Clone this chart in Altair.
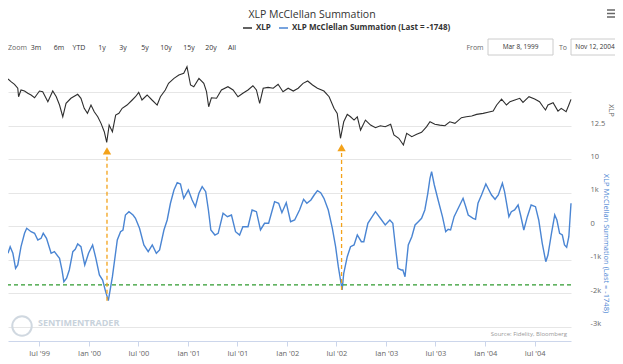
import altair as alt
import pandas as pd

# ---------------- data ----------------
xlp_dates = ["1999-03-08","1999-03-19","1999-04-01","1999-04-13","1999-04-16","1999-04-25","1999-05-08","1999-05-20","1999-06-01","1999-06-14",
"1999-07-02","1999-07-14","1999-08-02","1999-08-20","1999-09-02","1999-09-14","1999-09-26","1999-10-08","1999-10-26","1999-11-20",
"1999-12-02","1999-12-14","1999-12-26","2000-01-08","2000-01-20","2000-02-02","2000-02-14","2000-02-26","2000-03-06","2000-03-15",
"2000-03-27","2000-04-08","2000-04-20","2000-05-02","2000-05-20","2000-06-08","2000-06-20","2000-07-02","2000-07-14","2000-08-02",
"2000-08-20","2000-09-08","2000-09-20","2000-10-08","2000-10-20","2000-11-09","2000-11-27","2000-12-15","2000-12-27","2001-01-09",
"2001-01-21","2001-02-09","2001-02-27","2001-03-09","2001-03-17","2001-03-27","2001-04-15","2001-05-03","2001-05-27","2001-06-15",
"2001-07-03","2001-07-21","2001-08-09","2001-08-27","2001-09-09","2001-09-21","2001-10-04","2001-10-22","2001-11-10","2001-11-28",
"2001-12-16","2002-01-04","2002-01-23","2002-02-10","2002-02-28","2002-03-17","2002-04-04","2002-04-22","2002-05-16","2002-06-04",
"2002-06-22","2002-07-04","2002-07-16","2002-07-28","2002-08-10","2002-08-22","2002-09-04","2002-09-16","2002-09-28","2002-10-16",
"2002-11-04","2002-11-22","2002-12-10","2002-12-28","2003-01-17","2003-01-29","2003-02-16","2003-03-05","2003-03-17","2003-04-05",
"2003-04-23","2003-05-11","2003-05-29","2003-06-11","2003-06-29","2003-07-17","2003-08-05","2003-08-23","2003-09-11","2003-10-05",
"2003-10-23","2003-11-12","2003-11-30","2003-12-24","2004-01-11","2004-01-30","2004-02-12","2004-03-01","2004-03-19","2004-04-01",
"2004-04-19","2004-05-07","2004-05-19","2004-06-10","2004-07-01","2004-07-19","2004-08-01","2004-08-10","2004-08-19","2004-09-07",
"2004-09-25","2004-10-07","2004-10-25","2004-11-04","2004-11-12"]
xlp_values = [16.10,15.90,15.70,15.40,14.76,15.27,15.19,15.02,14.89,14.68,
15.19,15.14,14.38,15.19,14.76,14.13,13.24,14.26,14.64,14.94,
14.64,13.88,13.50,14.13,13.62,13.24,12.74,12.11,11.30,12.61,
12.11,13.37,13.50,13.88,14.13,14.51,14.76,15.09,14.51,14.89,
14.51,14.13,14.76,15.27,15.77,16.15,16.40,16.53,17.03,15.65,
15.52,16.15,15.77,15.14,14.00,14.68,14.64,15.27,15.52,15.27,
14.76,15.02,15.27,15.59,15.27,14.26,15.40,15.47,15.40,15.70,
15.14,15.40,15.19,15.40,15.77,15.95,15.65,15.40,15.19,14.76,
13.88,13.50,11.61,12.86,13.42,13.24,12.99,13.24,12.23,12.99,
12.61,12.41,12.56,12.48,12.67,11.86,11.61,11.10,11.98,11.73,
11.91,12.06,12.48,12.86,12.67,12.61,12.56,12.86,12.74,13.17,
13.24,13.30,13.42,13.50,13.58,13.67,14.13,14.58,14.13,14.38,
14.51,14.64,14.33,14.76,14.58,14.38,14.00,13.75,14.13,14.30,
13.67,13.88,13.62,14.13,14.56]

sum_dates = ["1999-03-08","1999-03-16","1999-03-26","1999-04-05","1999-04-13","1999-04-25","1999-05-08","1999-05-16","1999-06-01","1999-06-14",
"1999-06-26","1999-07-08","1999-07-16","1999-07-28","1999-08-14","1999-08-26","1999-09-14","1999-09-23","1999-09-30","1999-10-10",
"1999-10-20","1999-11-02","1999-11-11","1999-11-20","1999-12-02","1999-12-16","1999-12-30","2000-01-14","2000-01-26","2000-02-08",
"2000-02-20","2000-03-02","2000-03-12","2000-03-27","2000-04-14","2000-04-26","2000-05-05","2000-05-14","2000-05-27","2000-06-11",
"2000-06-20","2000-07-05","2000-07-21","2000-08-06","2000-08-21","2000-09-05","2000-09-17","2000-10-03","2000-10-15","2000-10-27",
"2000-11-09","2000-11-21","2000-12-03","2000-12-15","2001-01-01","2001-01-15","2001-01-27","2001-02-09","2001-02-21","2001-03-06",
"2001-03-16","2001-03-25","2001-04-09","2001-04-21","2001-05-09","2001-05-25","2001-06-09","2001-06-24","2001-07-09","2001-07-21",
"2001-08-09","2001-08-24","2001-09-09","2001-09-24","2001-10-09","2001-10-24","2001-11-15","2001-11-30","2001-12-12","2001-12-28",
"2002-01-13","2002-01-28","2002-02-15","2002-03-02","2002-03-14","2002-03-29","2002-04-10","2002-04-22","2002-05-04","2002-05-16",
"2002-06-01","2002-06-16","2002-06-28","2002-07-08","2002-07-16","2002-07-22","2002-07-28","2002-08-10","2002-08-22","2002-09-04",
"2002-09-16","2002-10-01","2002-10-10","2002-10-25","2002-11-10","2002-11-22","2002-12-10","2002-12-28","2003-01-14","2003-01-25",
"2003-02-05","2003-02-13","2003-02-25","2003-03-03","2003-03-11","2003-03-23","2003-04-05","2003-04-17","2003-04-29","2003-05-11",
"2003-05-23","2003-06-03","2003-06-11","2003-06-17","2003-06-27","2003-07-11","2003-07-27","2003-08-08","2003-08-17","2003-08-26",
"2003-09-08","2003-09-20","2003-09-29","2003-10-11","2003-10-21","2003-10-30","2003-11-17","2003-11-26","2003-12-05","2003-12-18",
"2004-01-03","2004-01-11","2004-01-24","2004-02-06","2004-02-18","2004-03-04","2004-03-12","2004-03-28","2004-04-06","2004-04-18",
"2004-05-01","2004-05-10","2004-05-22","2004-06-04","2004-06-18","2004-07-04","2004-07-16","2004-07-29","2004-08-11","2004-08-19",
"2004-09-01","2004-09-13","2004-09-21","2004-10-01","2004-10-11","2004-10-19","2004-10-27","2004-11-04","2004-11-12"]
sum_values = [-806,-609,-806,-1254,-1155,-609,-209,-60,-161,-209,
-409,-358,-209,-358,-806,-758,-955,-1304,-1654,-1552,
-1304,-758,-687,-528,-609,-1155,-806,-558,-955,-1454,
-1603,-1952,-2220,-1504,-409,-161,-110,337,436,337,
239,-60,-558,-758,-558,-806,-707,-110,188,687,
1084,1301,1263,836,1084,785,585,985,1182,1033,
487,-110,-260,-209,388,287,337,-161,-260,-12,
-12,487,436,-110,90,90,734,687,406,705,
137,188,487,806,687,785,934,1063,1003,836,
487,-60,-609,-1206,-1603,-1900,-1403,-907,-609,-558,
-260,-460,-460,90,287,436,239,39,188,90,
-707,-1254,-1304,-1304,-1504,-558,-310,39,137,239,
487,985,1433,1630,1233,785,287,-161,-90,-110,
287,487,636,836,585,337,239,209,687,934,
1263,1134,934,806,934,1284,1033,287,436,487,
636,337,-110,287,636,585,188,-507,-1057,-857,
-209,337,188,-209,-260,-558,-627,-310,687]

threshold = [-1748]
arrow_dates = ["2000-03-07", "2002-07-20"]
arrow_low = [-2220, -1900]      # summation lows the arrows start from
arrow_head = [2130, 2220]       # where the dashed shaft ends (summation units)
arrow_tip = [2250, 2350]        # triangle head (summation units)

tick_months = [(1999, 7), (2000, 1), (2000, 7), (2001, 1), (2001, 7), (2002, 1),
               (2002, 7), (2003, 1), (2003, 7), (2004, 1), (2004, 7)]
zoom_buttons = ["3m", "6m", "YTD", "1y", "3y", "5y", "10y", "15y", "20y", "All"]

# ---------------- styling ----------------
FONT = "Open Sans"
BLUE = "#4a85d3"
DARK = "#2e2e2e"
ORANGE = "#f3a21a"
GREEN = "#2f9a2f"
W, H = 563, 286

x_scale = alt.Scale(type="utc", domain=[alt.DateTime(year=1999, month=3, date=8, utc=True),
                                        alt.DateTime(year=2004, month=11, date=12, utc=True)])
x_axis = alt.Axis(values=[alt.DateTime(year=y, month=m, date=1, utc=True) for y, m in tick_months],
                  labelExpr="utcFormat(datum.value, \"%b '%y\")", title=None, grid=False,
                  domainColor="#ccd6eb", tickColor="#ccd6eb", tickSize=5, labelColor="#666666",
                  labelFontSize=7.5, labelPadding=3, labelFont=FONT)


def X():
    return alt.X("date:T", scale=x_scale, axis=x_axis)


sum_scale = alt.Scale(domain=[-3424, 5113], nice=False, zero=False)
xlp_scale = alt.Scale(domain=[-3.75, 17.92], nice=False, zero=False)

xlp_df = pd.DataFrame({"date": xlp_dates, "xlp": xlp_values})
sum_df = pd.DataFrame({"date": sum_dates, "summation": sum_values})
thr_df = pd.DataFrame({"level": threshold})
arr_df = pd.DataFrame({"date": arrow_dates, "low": arrow_low, "head": arrow_head, "tip": arrow_tip})

sum_axis = alt.Axis(orient="right", values=list(range(-3000, 5000, 1000)), grid=True, gridColor="#e6e6e6",
                    domain=False, ticks=False, labelAlign="left", labelPadding=19, labelOffset=-3,
                    labelColor="#666666", labelFontSize=7.5, labelFont=FONT,
                    labelExpr="datum.value > 1000 ? '' : (datum.value == 0 ? '0' : (datum.value / 1000) + 'k')",
                    title="XLP McClellan Summation (Last = -1748)", titleColor=BLUE, titleFontSize=7.5,
                    titleFontWeight="normal", titleFont=FONT, titleAngle=90, titleX=34, titleY=188,
                    titleAlign="center", titleBaseline="middle")

xlp_axis = alt.Axis(orient="right", values=[10, 12.5], grid=False, domain=False, ticks=False,
                    labelExpr="datum.value % 1 == 0 ? format(datum.value, 'd') : format(datum.value, '.1f')",
                    labelAlign="left", labelPadding=19, labelOffset=-3, labelColor="#666666",
                    labelFontSize=7.5, labelFont=FONT, title="XLP", titleColor="#666666",
                    titleFontSize=7.5, titleFontWeight="normal", titleFont=FONT, titleAngle=90,
                    titleX=39, titleY=55, titleAlign="center", titleBaseline="middle")

xlp_line = alt.Chart(xlp_df).mark_line(color=DARK, strokeWidth=1.1).encode(
    x=X(), y=alt.Y("xlp:Q", scale=xlp_scale, axis=xlp_axis))

sum_line = alt.Chart(sum_df).mark_line(color=BLUE, strokeWidth=1.4).encode(
    x=X(), y=alt.Y("summation:Q", scale=sum_scale, axis=sum_axis))

thr_rule = alt.Chart(thr_df).mark_rule(color=GREEN, strokeWidth=1.3, strokeDash=[4, 3]).encode(
    y=alt.Y("level:Q", scale=sum_scale, axis=None))

arr_rule = alt.Chart(arr_df).mark_rule(color=ORANGE, strokeWidth=1.3, strokeDash=[4, 3]).encode(
    x=X(), y=alt.Y("low:Q", scale=sum_scale, axis=None), y2="head:Q")

arr_head = alt.Chart(arr_df).mark_point(shape="triangle-up", filled=True, size=70, opacity=1,
                                        color=ORANGE).encode(
    x=X(), y=alt.Y("tip:Q", scale=sum_scale, axis=None))

ONE = pd.DataFrame({"k": [0]})


def txt(s, x, y, size=7.5, color="#333333", align="left", weight="normal"):
    return alt.Chart(ONE).mark_text(text=s, fontSize=size, color=color, align=align,
                                    baseline="middle", fontWeight=weight, font=FONT).encode(
        x=alt.value(x), y=alt.value(y))


def hline(x1, x2, y, color, width=1.5):
    return alt.Chart(ONE).mark_rule(color=color, strokeWidth=width).encode(
        x=alt.value(x1), x2=alt.value(x2), y=alt.value(y))


def box(x1, x2, y1, y2):
    return alt.Chart(ONE).mark_rect(fill="white", stroke="#cccccc", strokeWidth=1).encode(
        x=alt.value(x1), x2=alt.value(x2), y=alt.value(y1), y2=alt.value(y2))


deco = [
    txt("XLP McClellan Summation", 304, -40.5, size=10.5, color="#333333", align="center"),
    hline(235, 244, -27, DARK),
    txt("XLP", 248, -27, size=8, weight="bold"),
    hline(271, 280, -27, BLUE),
    txt("XLP McClellan Summation (Last = -1748)", 284, -27, size=8, weight="bold"),
    txt("Zoom", 0, -7, size=7, color="#666666"),
]
btn_x = [28, 51, 71, 94, 115, 137, 158, 181, 203, 224]
for lab, bx in zip(zoom_buttons, btn_x):
    deco.append(txt(lab, bx, -7, size=7, align="center"))
deco += [
    txt("From", 467, -7, size=7, color="#666666", align="center"),
    box(480, 545, -16, 0),
    txt("Mar 8, 1999", 512.5, -8, size=6.5, align="center"),
    txt("To", 555, -7, size=7, color="#666666", align="center"),
    box(563, 611, -16, 0),
    txt("Nov 12, 2004", 587, -8, size=6.5, align="center"),
    hline(599, 609, -45, "#666666"),
    hline(599, 609, -41.5, "#666666"),
    hline(599, 609, -38, "#666666"),
    txt("Source: Fidelity, Bloomberg", 559, 279, size=6, color="#999999", align="right"),
    txt("SENTIMENTRADER", 30, 268, size=9, color="#c8d2db", weight="bold"),
    alt.Chart(ONE).mark_point(shape="circle", size=380, color="#d0d8e0", strokeWidth=2, opacity=1).encode(
        x=alt.value(14), y=alt.value(271)),
]

chart = alt.layer(xlp_line, sum_line, thr_rule, arr_rule, arr_head, *deco).resolve_scale(
    y="independent"
).properties(
    width=W, height=H,
    autosize=alt.AutoSizeParams(type="none"),
    padding={"left": 0, "top": 47, "right": 44, "bottom": 15},
).configure(font=FONT).configure_view(stroke=None)

chart.save("out.html", embed_options={"renderer": "svg", "actions": False})
